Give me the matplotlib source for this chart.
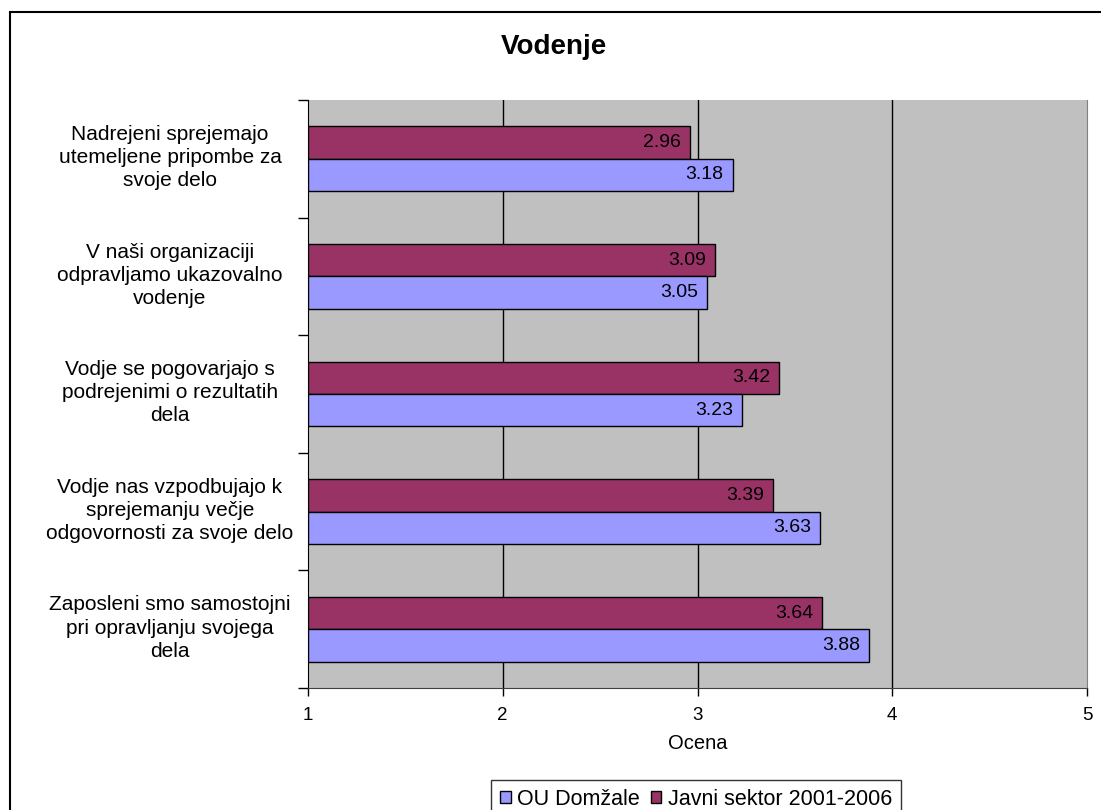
import matplotlib
matplotlib.use("Agg")
import matplotlib.pyplot as plt
from matplotlib.patches import Rectangle
from matplotlib.transforms import blended_transform_factory

plt.rcParams['font.family'] = ['Liberation Sans', 'DejaVu Sans']

categories = [
    "Nadrejeni sprejemajo\nutemeljene pripombe za\nsvoje delo",
    "V naši organizaciji\nodpravljamo ukazovalno\nvodenje",
    "Vodje se pogovarjajo s\npodrejenimi o rezultatih\ndela",
    "Vodje nas vzpodbujajo k\nsprejemanju večje\nodgovornosti za svoje delo",
    "Zaposleni smo samostojni\npri opravljanju svojega\ndela",
]
ou_domzale = [3.18, 3.05, 3.23, 3.63, 3.88]
javni_sektor = [2.96, 3.09, 3.42, 3.39, 3.64]
series_names = ["OU Domžale", "Javni sektor 2001-2006"]
x_ticks = [1, 2, 3, 4, 5]
title = "Vodenje"
xlabel = "Ocena"

c_blue = "#9999FF"
c_purple = "#993366"
c_bg = "#C0C0C0"

fig = plt.figure(figsize=(11.01, 8.10), dpi=100)
W, H = 1101, 810
ax = fig.add_axes([308 / W, 1 - 688 / H, (1087 - 308) / W, (688 - 100) / H])
ax.set_facecolor(c_bg)

n = len(categories)
pos = list(range(n))
h = 0.275
bars_j = ax.barh([p - h / 2 for p in pos], [v - 1 for v in javni_sektor], left=1,
                 height=h, color=c_purple, edgecolor="black", linewidth=1, zorder=3,
                 label=series_names[1])
bars_o = ax.barh([p + h / 2 for p in pos], [v - 1 for v in ou_domzale], left=1,
                 height=h, color=c_blue, edgecolor="black", linewidth=1, zorder=3,
                 label=series_names[0])

for bars, vals in ((bars_j, javni_sektor), (bars_o, ou_domzale)):
    for b, v in zip(bars, vals):
        ax.annotate(f"{v:.2f}", xy=(v, b.get_y() + b.get_height() / 2),
                    xytext=(-6.5, 0), textcoords="offset points",
                    ha="right", va="center", fontsize=14, zorder=4)

ax.set_xlim(1, 5)
ax.set_ylim(n - 0.5, -0.5)
ax.set_xticks(x_ticks)
ax.set_xticklabels([str(t) for t in x_ticks], fontsize=13.5)
ax.set_yticks([p - 0.5 for p in pos] + [n - 0.5])
ax.set_yticklabels([])
ax.tick_params(axis="y", length=7, width=1, color="black", direction="out")
ax.tick_params(axis="x", length=6, width=1, color="black", direction="out", pad=8)
for x in x_ticks[1:-1]:
    ax.axvline(x, color="black", linewidth=1, zorder=1)

ax.spines["top"].set_visible(False)
ax.spines["right"].set_color("#808080")
ax.spines["left"].set_color("black")
ax.spines["bottom"].set_color("#404040")

tr = blended_transform_factory(ax.transAxes, ax.transData)
for p, c in zip(pos, categories):
    ax.text((170 - 308) / (1087 - 308), p - 0.01, c, transform=tr, ha="center", va="center",
            multialignment="center", fontsize=15, linespacing=1.27)

ax.set_xlabel(xlabel, fontsize=14.5, labelpad=7)
fig.text(554 / W, 1 - 47 / H, title, ha="center", va="center", fontsize=20, fontweight="bold")

handles = [bars_o, bars_j]
leg = fig.legend(handles, series_names, loc="upper center",
                 bbox_to_anchor=(696 / W, 1 - 780 / H), ncol=2, fontsize=15.5,
                 frameon=True, fancybox=False, handlelength=0.5, handleheight=0.5,
                 handletextpad=0.3, columnspacing=0.5, borderpad=0.4, borderaxespad=0)
leg.get_frame().set_edgecolor("black")
leg.get_frame().set_linewidth(1)

fig.patches.append(Rectangle((9.5 / W, -0.2), 1.5, 1.2 - 12 / H, transform=fig.transFigure,
                             fill=False, edgecolor="black", linewidth=1.5))

fig.savefig("out.png", dpi=100)
